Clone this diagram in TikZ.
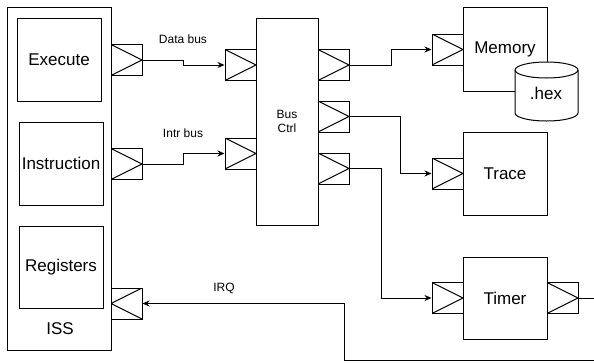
\documentclass[tikz,border=0pt]{standalone}
\usepackage{fontspec}
\setmainfont{Liberation Sans}
\usetikzlibrary{arrows.meta}
\begin{document}
\begin{tikzpicture}[x=1pt,y=-1pt,line width=1pt,
  box/.style={draw,rectangle,inner sep=0pt,fill=white},
  big/.style={font=\fontsize{17}{20}\selectfont},
  small/.style={font=\fontsize{12}{14}\selectfont,align=center},
  portR/.style={draw,rectangle,inner sep=0pt,minimum width=31pt,minimum height=31pt,
    path picture={\draw (path picture bounding box.north west) -- (path picture bounding box.east) -- (path picture bounding box.south west);}},
  portL/.style={draw,rectangle,inner sep=0pt,minimum width=31pt,minimum height=31pt,
    path picture={\draw (path picture bounding box.north east) -- (path picture bounding box.west) -- (path picture bounding box.south east);}},
  arr/.style={-{Stealth[length=7pt,width=6pt]}}]
\useasboundingbox (0,0) rectangle (594,362);
\clip (0,0) rectangle (594,362);

% ISS
\node[box,minimum width=104pt,minimum height=343pt] (iss) at (59,178.5) {};
\node[box,big,minimum width=84pt,minimum height=83pt] (exe) at (59,59.5) {Execute};
\node[box,big,minimum width=84pt,minimum height=83pt] (ins) at (61,163.5) {Instruction};
\node[box,big,minimum width=84pt,minimum height=82pt] (reg) at (61,267) {Registers};
\node[big] (isslabel) at (60,329) {ISS};

\node[portR] (eout) at (126.5,60) {};
\node[portR] (iout) at (126.5,164) {};
\node[portL] (irq) at (126.5,303.5) {};

% Bus Ctrl
\node[box,small,minimum width=62pt,minimum height=207pt] (bus) at (287,121.5) {Bus\\Ctrl};
\node[portR] (bdin) at (240.5,65) {};
\node[portR] (biin) at (240.5,153.5) {};
\node[portR] (bo1) at (333.5,65) {};
\node[portR] (bo2) at (333.5,116.5) {};
\node[portR] (bo3) at (333.5,168.5) {};

% Memory
\node[box,big,minimum width=84pt,minimum height=84pt] (mem) at (505,49) {Memory};
\node[portR] (memin) at (447.5,49.5) {};
\path[draw,fill=white] (515,70) -- (515,113) arc[start angle=180,end angle=0,x radius=31.5,y radius=8]
  -- (578,70) arc[start angle=0,end angle=-180,x radius=31.5,y radius=8] -- cycle;
\draw (515,70) arc[start angle=180,end angle=0,x radius=31.5,y radius=8];
\node[big] (hex) at (546,93) {.hex};

% Trace
\node[box,big,minimum width=84pt,minimum height=83pt] (trace) at (505,173.5) {Trace};
\node[portR] (trin) at (447.5,173.5) {};

% Timer
\node[box,big,minimum width=84pt,minimum height=82pt] (timer) at (505,298) {Timer};
\node[portR] (tmin) at (447.5,298) {};
\node[portR] (tmout) at (562.5,298) {};

% connectors
\draw[arr] (eout.east) -- (183,60) |- (bdin.west);
\draw[arr] (iout.east) -- (183,164) |- (biin.west);
\draw[arr] (bo1.east) -- (391,65) |- (memin.west);
\draw[arr] (bo2.east) -- (400,116.5) |- (trin.west);
\draw[arr] (bo3.east) -- (381,168.5) |- (tmin.west);
\draw[arr] (tmout.east) -- (610,298) |- (344,360) |- (irq.east);

\node[small] (ldata) at (183,39) {Data bus};
\node[small] (lintr) at (183,133) {Intr bus};
\node[small] (lirq) at (224,288) {IRQ};
\end{tikzpicture}
\end{document}
